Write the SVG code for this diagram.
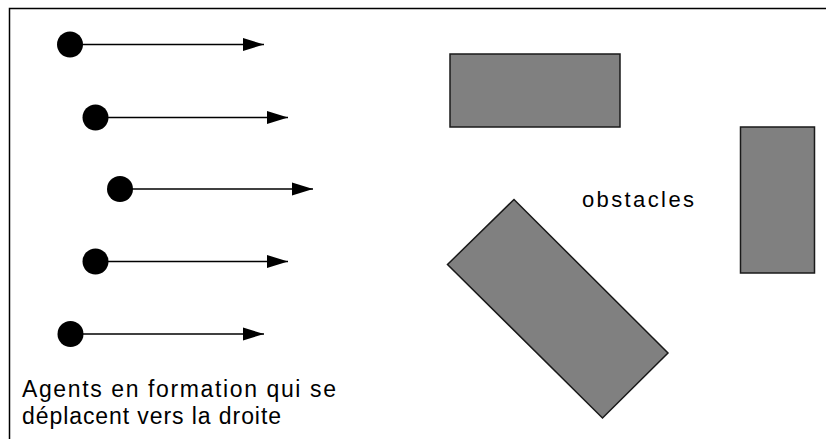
<svg xmlns="http://www.w3.org/2000/svg" width="826" height="439" viewBox="0 0 826 439">
<defs>
<marker id="ah" markerUnits="userSpaceOnUse" markerWidth="22" markerHeight="14" refX="21" refY="7" orient="auto">
<path d="M0,0.5 L21,7 L0,13.5 Z" fill="#000"/>
</marker>
<style>
.agent{fill:#000}
.move{stroke:#000;stroke-width:1.5;fill:none}
.obs{fill:#808080;stroke:#1a1a1a;stroke-width:1.5}
.lbl{font-family:"Liberation Sans",Arial,sans-serif;font-size:23px;fill:#000}
</style>
</defs>
<rect width="826" height="439" fill="#fff"/>
<rect x="9.5" y="8.5" width="900" height="500" fill="none" stroke="#000" stroke-width="1.5"/>
<g id="agent1"><circle class="agent" cx="70" cy="44.5" r="13"/></g>
<g id="agent2"><circle class="agent" cx="95.5" cy="117.5" r="13"/></g>
<g id="agent3"><circle class="agent" cx="120" cy="189" r="13"/></g>
<g id="agent4"><circle class="agent" cx="95.5" cy="261.5" r="13"/></g>
<g id="agent5"><circle class="agent" cx="70.5" cy="334" r="13"/></g>
<g id="connectors">
<line class="move" x1="80" y1="44.5" x2="264" y2="44.5" marker-end="url(#ah)"/>
<line class="move" x1="105" y1="117.5" x2="288" y2="117.5" marker-end="url(#ah)"/>
<line class="move" x1="130" y1="189" x2="313" y2="189" marker-end="url(#ah)"/>
<line class="move" x1="105" y1="261.5" x2="288" y2="261.5" marker-end="url(#ah)"/>
<line class="move" x1="80" y1="334" x2="264" y2="334" marker-end="url(#ah)"/>
</g>
<g id="obstacle1"><rect class="obs" x="450" y="54" width="170" height="73"/></g>
<g id="obstacle2"><rect class="obs" x="740.5" y="127" width="74" height="146"/></g>
<g id="obstacle3"><polygon class="obs" points="514,199.5 447.5,264.5 602.5,418 668,353"/></g>
<g id="label-obstacles"><text class="lbl" x="582" y="207" font-size="22" style="font-size:22px" textLength="112" lengthAdjust="spacing">obstacles</text></g>
<g id="label-agents">
<text class="lbl" x="22" y="397" textLength="314" lengthAdjust="spacing">Agents en formation qui se</text>
<text class="lbl" x="22" y="424" textLength="259" lengthAdjust="spacing">déplacent vers la droite</text>
</g>
</svg>
